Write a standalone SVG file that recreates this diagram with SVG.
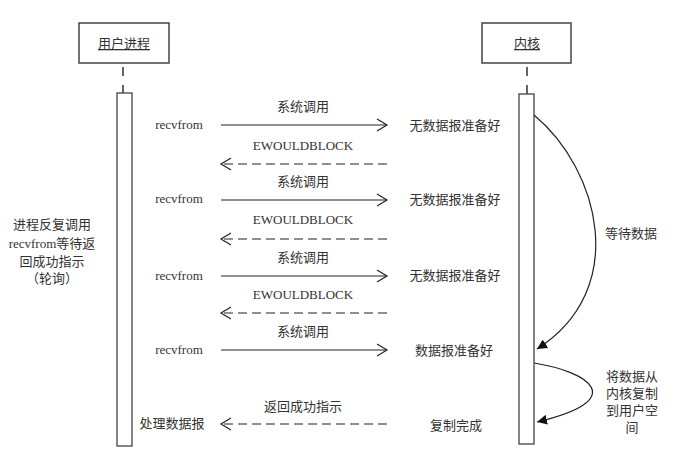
<svg xmlns="http://www.w3.org/2000/svg" width="676" height="465" viewBox="0 0 676 465">
<defs>
<style>
text{font-family:"Liberation Serif","Noto Sans CJK SC",serif;font-size:13px;fill:#333;}
.box{fill:#fff;stroke:#444;stroke-width:1.5;}
.life{fill:#fff;stroke:#444;stroke-width:1.3;}
.solid{fill:none;stroke:#222;stroke-width:1.2;}
.dash{fill:none;stroke:#222;stroke-width:1.2;stroke-dasharray:9,5;}
.curve{fill:none;stroke:#222;stroke-width:1.2;}
.ldash{fill:none;stroke:#333;stroke-width:1.5;stroke-dasharray:9,9;}
</style>
<marker id="open" markerUnits="userSpaceOnUse" markerWidth="14" markerHeight="14" refX="12" refY="7" orient="auto">
<path d="M2,1 L12,7 L2,13" fill="none" stroke="#222" stroke-width="1.2"/>
</marker>
<marker id="fill" markerUnits="userSpaceOnUse" markerWidth="12" markerHeight="10" refX="10" refY="5" orient="auto">
<path d="M0,0 L10,5 L0,10 Z" fill="#111"/>
</marker>
</defs>
<g id="user-process">
<rect class="box" x="79" y="23" width="90" height="40"/>
<text x="124" y="48" text-anchor="middle" text-decoration="underline">用户进程</text>
<line class="ldash" x1="123" y1="67" x2="123" y2="93"/>
<rect class="life" x="117" y="93" width="15" height="353"/>
</g>
<g id="kernel">
<rect class="box" x="482" y="23" width="89" height="40"/>
<text x="527" y="48" text-anchor="middle" text-decoration="underline">内核</text>
<line class="ldash" x1="527" y1="67" x2="527" y2="94"/>
<rect class="life" x="519" y="94" width="15" height="350"/>
</g>
<g id="connectors">
<line class="solid" x1="221" y1="125" x2="387" y2="125" marker-end="url(#open)"/>
<line class="dash" x1="387" y1="164" x2="221" y2="164" marker-end="url(#open)"/>
<line class="solid" x1="221" y1="200" x2="387" y2="200" marker-end="url(#open)"/>
<line class="dash" x1="387" y1="239" x2="221" y2="239" marker-end="url(#open)"/>
<line class="solid" x1="221" y1="276" x2="387" y2="276" marker-end="url(#open)"/>
<line class="dash" x1="387" y1="313" x2="221" y2="313" marker-end="url(#open)"/>
<line class="solid" x1="221" y1="350" x2="387" y2="350" marker-end="url(#open)"/>
<line class="dash" x1="387" y1="424" x2="221" y2="424" marker-end="url(#open)"/>
<path class="curve" d="M534,115 C600,170 630,290 537,349" marker-end="url(#fill)"/>
<path class="curve" d="M534,363 C590,372 630,400 537,422" marker-end="url(#fill)"/>
</g>
<g id="labels">
<text x="303" y="111" text-anchor="middle">系统调用</text>
<text x="179" y="129" text-anchor="middle">recvfrom</text>
<text x="303" y="150" text-anchor="middle">EWOULDBLOCK</text>
<text x="303" y="186" text-anchor="middle">系统调用</text>
<text x="179" y="203" text-anchor="middle">recvfrom</text>
<text x="303" y="224" text-anchor="middle">EWOULDBLOCK</text>
<text x="303" y="262" text-anchor="middle">系统调用</text>
<text x="179" y="280" text-anchor="middle">recvfrom</text>
<text x="303" y="299" text-anchor="middle">EWOULDBLOCK</text>
<text x="303" y="336" text-anchor="middle">系统调用</text>
<text x="179" y="354" text-anchor="middle">recvfrom</text>
<text x="303" y="411" text-anchor="middle">返回成功指示</text>
<text x="172" y="428" text-anchor="middle">处理数据报</text>
<text x="455" y="130" text-anchor="middle">无数据报准备好</text>
<text x="455" y="204" text-anchor="middle">无数据报准备好</text>
<text x="455" y="280" text-anchor="middle">无数据报准备好</text>
<text x="454" y="355" text-anchor="middle">数据报准备好</text>
<text x="456" y="430" text-anchor="middle">复制完成</text>
<text x="631" y="238" text-anchor="middle">等待数据</text>
<text x="632" y="381" text-anchor="middle">将数据从</text>
<text x="632" y="398" text-anchor="middle">内核复制</text>
<text x="632" y="415" text-anchor="middle">到用户空</text>
<text x="632" y="432" text-anchor="middle">间</text>
<text x="52" y="229" text-anchor="middle">进程反复调用</text>
<text x="52" y="248" text-anchor="middle">recvfrom等待返</text>
<text x="52" y="266" text-anchor="middle">回成功指示</text>
<text x="52" y="283" text-anchor="middle">（轮询）</text>
</g>
</svg>
